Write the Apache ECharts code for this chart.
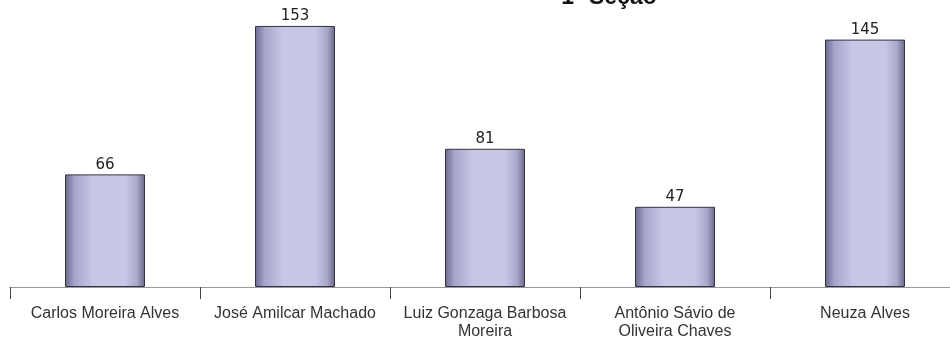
<!DOCTYPE html>
<html><head><meta charset="utf-8">
<script src="https://cdn.jsdelivr.net/npm/echarts@6/dist/echarts.min.js"></script>
<style>html,body{margin:0;padding:0;background:#fff}#c{width:950px;height:341px}</style>
</head><body><div id="c"></div>
<script>
const categories = ['Carlos Moreira Alves', 'José Amilcar Machado', 'Luiz Gonzaga Barbosa\nMoreira', 'Antônio Sávio de\nOliveira Chaves', 'Neuza Alves'];
const votes = [66, 153, 81, 47, 145];
const chart = echarts.init(document.getElementById('c'));
chart.setOption({
  animation: false,
  title: { text: '1ª Seção', left: 604, top: -19, textAlign: 'center',
    textStyle: { fontFamily: 'Liberation Sans', fontWeight: 'bold', fontSize: 23, color: '#111' } },
  grid: { left: 10, width: 950, top: 14, bottom: 54, outerBoundsMode: 'none', containLabel: false },
  xAxis: { type: 'category', data: categories,
    axisLine: { lineStyle: { color: '#999', width: 1 } },
    axisTick: { show: true, length: 12, lineStyle: { color: '#444', width: 1 } },
    axisLabel: { fontFamily: 'Liberation Sans', fontSize: 16, color: '#333', margin: 18, lineHeight: 18, interval: 0 } },
  yAxis: { type: 'value', min: 0, max: 160, show: false, splitLine: { show: false } },
  series: [{
    type: 'bar', data: votes, barWidth: 80,
    itemStyle: {
      borderColor: '#333344', borderWidth: 1,
      color: { type: 'linear', x: 0, y: 0, x2: 1, y2: 0, colorStops: [
        { offset: 0, color: '#6c6990' }, { offset: 0.12, color: '#a6a4ca' },
        { offset: 0.35, color: '#c9c7e6' }, { offset: 0.75, color: '#c9c7e6' },
        { offset: 0.9, color: '#a9a7ca' }, { offset: 1, color: '#6a6788' } ] }
    },
    label: { show: true, position: 'top', distance: 2, fontFamily: 'DejaVu Sans', fontSize: 15, color: '#222' }
  }]
});
</script></body></html>
